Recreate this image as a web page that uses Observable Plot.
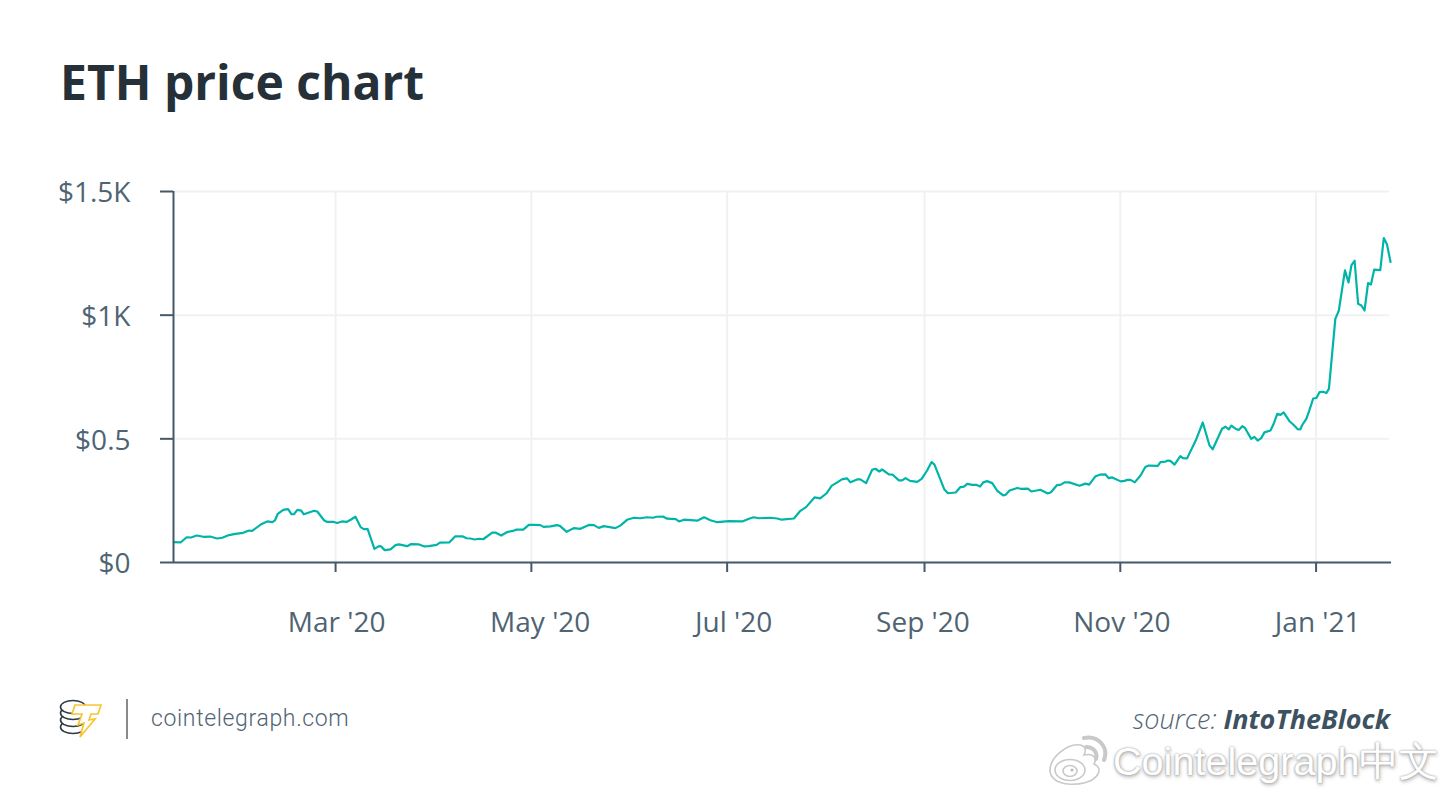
<!DOCTYPE html>
<html>
<head>
<meta charset="utf-8">
<script src="https://cdn.jsdelivr.net/npm/d3@7"></script>
<script src="https://cdn.jsdelivr.net/npm/@observablehq/plot@0.6"></script>
<style>
html,body{margin:0;padding:0;background:#fff;width:1450px;height:799px;overflow:hidden}
#wrap{position:relative;width:1450px;height:799px;font-family:"Open Sans",sans-serif}
#wrap>*{position:absolute}
#title{left:60px;top:50px;font-size:48px;font-weight:700;color:#253038;line-height:64px;white-space:nowrap}
#chart{left:0;top:140px}
#logo{left:58px;top:698px}
#divider{left:126px;top:699px;width:2px;height:40px;background:#8a8a8a}
#site{left:151px;top:704px;font-family:Roboto,sans-serif;font-weight:300;font-size:23px;letter-spacing:.65px;color:#4f6473;line-height:30px}
#source{right:60px;top:701px;font-size:27px;line-height:36px;font-style:italic;font-weight:300;color:#4f6473;white-space:nowrap}
#source b{font-weight:700;color:#3d5260}
#mark{left:1113px;top:736px;font-family:"Liberation Sans",sans-serif;font-size:39.6px;line-height:50px;color:#fff;white-space:nowrap;text-shadow:0 0 2px #a5a5a5,0 1px 3px #b5b5b5,1px 2px 4px #c5c5c5}
#weibo{left:1046px;top:733px}
</style>
</head>
<body>
<div id="wrap">
  <div id="title">ETH price chart</div>
  <div id="chart"></div>
  <svg id="logo" width="46" height="42" viewBox="0 0 46 42">
    <g fill="#fff" stroke="#2d3a42" stroke-width="1.6">
      <ellipse cx="15" cy="29" rx="12.5" ry="6.5"/>
      <ellipse cx="15" cy="22" rx="12.5" ry="6.5"/>
      <ellipse cx="15" cy="15" rx="12.5" ry="6.5"/>
      <ellipse cx="15" cy="9" rx="12.5" ry="6.5"/>
    </g>
    <path d="M17 7 L43 7 L40 16 L33 16 L31 22 L37 21 L22 39 L26 25 L20 27 L24 16 L14 16 Z" fill="#fff" stroke="#f7c530" stroke-width="1.7" stroke-linejoin="miter"/>
  </svg>
  <div id="divider"></div>
  <div id="site">cointelegraph.com</div>
  <div id="source">source: <b>IntoTheBlock</b></div>
  <svg id="weibo" width="64" height="54" viewBox="0 0 64 54">
    <g fill="#fff" stroke="#c9c9c9" stroke-width="1.6">
      <path d="M4 37 C4 24 22 10 34 12 C40 13 40 18 38 22 C46 20 52 24 48 31 C53 33 54 37 52 41 C47 50 32 52 22 51 C11 50 4 45 4 37 Z"/>
      <ellipse cx="24" cy="37" rx="15" ry="10.5"/>
      <ellipse cx="24" cy="38" rx="7" ry="5.5"/>
    </g>
    <circle cx="26" cy="37" r="1.6" fill="#bbb"/>
    <g fill="none" stroke="#c9c9c9" stroke-width="4" stroke-linecap="round">
      <path d="M40 14 C47 14 52 19 50 26"/>
      <path d="M38 5 C52 2 63 14 58 27"/>
    </g>
  </svg>
  <div id="mark">Cointelegraph中文</div>
</div>
<script>
// Days after 1 Mar 2020 at which each vertex of the price line was read
const dayOffsets = [-50.4,-48.3,-46.4,-45,-43.3,-41.2,-39.1,-36.9,-35.3,-33.2,-31.2,-28.8,-27,-26,-23,-21.3,-19.7,-18.9,-18,-16.3,-14.8,-13.7,-13,-11.9,-10.7,-9.9,-8.3,-6.7,-5.7,-3.6,-2.6,-0.5,0.5,2,3.4,4.7,6.2,7.8,8.8,10,12.1,13.5,14.2,15.3,17.1,18.7,19.7,22.3,23.4,26,27.7,29,31.5,32.5,35.4,37.3,39.5,40.8,42,43.3,44.7,46,48.8,49.8,51.6,53.5,55.6,56.4,58.5,60.2,61.8,63.8,64.8,67,69,69.9,72,74.2,76.3,78.9,80.5,82,83.6,87.2,88.8,91,93,95,97,98.9,100,102,103.3,106,107,108.5,112.7,114.8,116.8,118.9,122.5,126.7,128.8,130.3,131.9,135.5,137.6,139,142.8,144.9,146.6,149.2,151,153,154.6,156.3,157.9,159.4,160.4,162.5,163.5,165.3,167.2,168.2,169.4,170.3,172.4,173.6,175.5,176.5,177.6,179,181.2,182.6,184.3,185.7,186.6,189.7,190.8,193.2,194.7,195.8,196.8,198.4,199.6,200.8,201.8,203,204.6,206.1,208,208.8,210,212.4,213.4,215.7,216.8,219.6,221.9,222.9,224.8,226,227.1,228.6,231.8,233.6,234.8,236.8,238.1,239.9,240.9,242,244.6,245.8,246.7,247.7,249,250.8,252.3,253.4,256.2,257,258.6,259.3,260.1,261.4,263.2,264,265.3,268,270.2,272.3,273.3,276.2,277.3,278.3,279.1,280.4,281.4,282.5,283.3,285.3,286.3,287.3,288.4,289.4,291.3,292.3,293.4,294.4,295.4,297.3,298.3,299.8,300.6,301.1,302.5,303.4,304.6,305.6,306.6,307.7,308.7,309.5,311.5,312.6,314.5,315.6,316.5,317.5,318.6,319.6,320.6,321.7,322.6,323.6,325.5,326.6,327.6,328.7];
const prices = [82,81,102,101,109,104,105,97,100,111,116,120,129,128,156,166,163,170,197,213,216,195,195,213,210,195,202,209,206,171,164,164,160,166,164,173,185,143,135,135,55,66,65,50,53,70,73,66,74,73,65,66,71,80,81,106,106,98,97,93,96,94,121,121,109,123,129,133,133,152,152,151,144,146,151,148,124,139,136,152,151,140,147,139,150,174,181,179,183,181,185,186,177,175,166,173,169,183,171,163,167,166,177,183,179,181,178,173,178,210,224,263,259,280,311,324,337,340,324,336,336,321,375,379,368,376,356,355,332,332,341,330,326,338,372,406,396,295,280,283,305,307,318,314,314,307,324,329,321,291,271,274,291,301,298,299,287,294,279,284,313,315,324,324,310,319,315,349,355,356,341,344,328,330,334,334,324,352,386,392,391,406,408,412,411,396,430,422,421,493,566,473,458,541,549,538,553,541,536,551,545,500,508,493,503,526,534,561,601,597,607,570,559,539,538,554,582,615,663,665,689,690,685,702,985,1019,1181,1132,1201,1220,1046,1039,1019,1130,1124,1184,1182,1312,1286,1215];

const yTickValues = [0, 500, 1000, 1500];
const yTickLabels = ["$0", "$0.5", "$1K", "$1.5K"];
// The reference spaces its month ticks evenly, about every 61 days
const monthTicks = ["2020-03-01","2020-05-01","2020-07-01","2020-08-31T12:00Z","2020-10-31T12:00Z","2020-12-31T12:00Z"];
const monthLabels = ["Mar '20","May '20","Jul '20","Sep '20","Nov '20","Jan '21"];
// The reference centres its month labels a little off the month ticks
const labelDates = ["2020-03-01T08:00Z","2020-05-03T18:00Z","2020-07-03","2020-08-31","2020-11-01","2021-01-01"];
const domainDates = ["2020-01-10T12:00Z","2021-01-24T00:00Z"];

const dayMs = 864e5, origin = Date.UTC(2020, 2, 1);
const series = dayOffsets.map((d, i) => ({date: new Date(origin + d * dayMs), price: prices[i]}));
const tickDates = monthTicks.map(d => new Date(d));
const labelAt = labelDates.map(d => new Date(d));
const axisColor = "#45596a", gridColor = "#f0f1f2";

const plot = Plot.plot({
  width: 1450, height: 500,
  marginLeft: 173, marginRight: 59, marginTop: 51, marginBottom: 78,
  style: {background: "transparent", fontFamily: "'Open Sans',sans-serif", overflow: "visible"},
  x: {type: "utc", domain: domainDates.map(d => new Date(d))},
  y: {domain: [0, 1500]},
  marks: [
    Plot.ruleX(tickDates, {stroke: gridColor, strokeWidth: 2}),
    Plot.ruleY(yTickValues.slice(1), {stroke: gridColor, strokeWidth: 2, insetRight: 2}),
    Plot.line(series, {x: "date", y: "price", stroke: "#00b5a8", strokeWidth: 2.2, curve: "linear"}),
    Plot.ruleX([domainDates[0]].map(d => new Date(d)), {stroke: axisColor, strokeWidth: 2}),
    Plot.ruleY([0], {stroke: axisColor, strokeWidth: 2}),
    Plot.axisY({ticks: yTickValues, tickSize: 13, tickFormat: () => "", stroke: axisColor, strokeWidth: 2, label: null}),
    Plot.axisY({ticks: yTickValues, tickSize: 0, tickPadding: 43, dy: 2,
      tickFormat: v => yTickLabels[yTickValues.indexOf(v)], fontSize: 28, fill: "#4f6473", label: null}),
    Plot.axisX({ticks: tickDates, tickSize: 10, tickFormat: () => "", stroke: axisColor, strokeWidth: 2, label: null}),
    Plot.axisX({ticks: labelAt, tickSize: 0, tickPadding: 50, fontSize: 28, fill: "#4f6473", label: null,
      tickFormat: d => monthLabels[labelAt.findIndex(t => +t === +d)]})
  ]
});
document.getElementById("chart").appendChild(plot);
</script>
</body>
</html>
